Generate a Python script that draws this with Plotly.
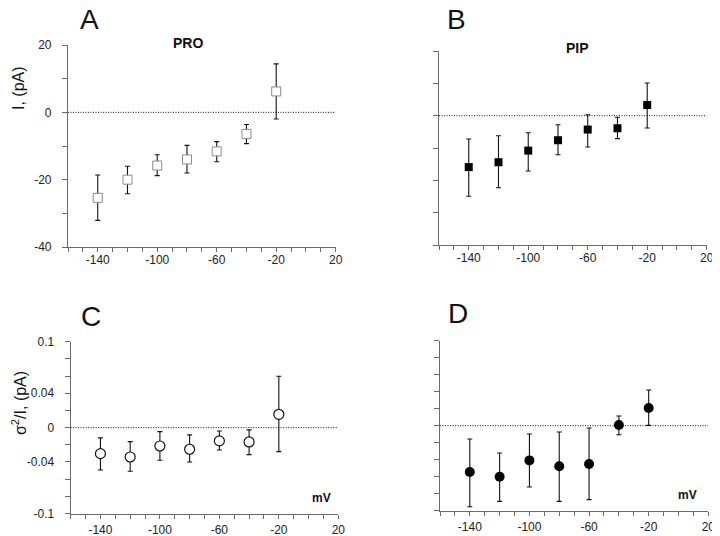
import plotly.graph_objects as go

# ---- data ----
voltage = [-140, -120, -100, -80, -60, -40, -20]

pro_I = [-25.4, -20.0, -15.8, -14.0, -11.6, -6.4, 6.2]
pro_I_up = [6.8, 4.0, 3.2, 4.2, 2.9, 2.8, 8.2]
pro_I_dn = [6.7, 4.2, 3.0, 4.0, 3.1, 2.9, 8.2]

pip_I = [-15.9, -14.4, -10.8, -7.6, -4.3, -3.9, 3.3]
pip_I_up = [8.7, 8.2, 5.5, 4.8, 4.6, 3.4, 6.8]
pip_I_dn = [9.0, 7.9, 6.3, 4.5, 5.4, 3.2, 7.1]

pro_var = [-0.0303, -0.0342, -0.0214, -0.0252, -0.0155, -0.0167, 0.0155]
pro_var_up = [0.0183, 0.0179, 0.0167, 0.0167, 0.0116, 0.0140, 0.0443]
pro_var_dn = [0.0190, 0.0167, 0.0166, 0.0148, 0.0105, 0.0148, 0.0435]

pip_var = [-0.0545, -0.0600, -0.0408, -0.0478, -0.0450, 0.0008, 0.0208]
pip_var_up = [0.0388, 0.0278, 0.0310, 0.0403, 0.0423, 0.0106, 0.0212]
pip_var_dn = [0.0408, 0.0290, 0.0314, 0.0412, 0.0420, 0.0114, 0.0204]

x_ticks = list(range(-160, 21, 10))
x_labels = ["-140", "-100", "-60", "-20", "20"]
I_ticks = list(range(-40, 21, 10))
I_labels = ["20", "0", "-20", "-40"]
var_ticks = [round(-0.1 + 0.02 * i, 2) for i in range(11)]
var_labels = ["0.1", "0.04", "0", "-0.04", "-0.1"]

FONT = "Liberation Sans, Arial, Helvetica, sans-serif"
AXC = "#6a6a6a"
W, H = 720, 536
OFF = 8  # page body margin offset


def px_x(X):
    return (X - OFF) / W


def px_y(Y):
    return 1 - (Y - OFF) / H


fig = go.Figure()

panels = [
    dict(xa="x", ya="y", y=pro_I, up=pro_I_up, dn=pro_I_dn),
    dict(xa="x2", ya="y2", y=pip_I, up=pip_I_up, dn=pip_I_dn),
    dict(xa="x3", ya="y3", y=pro_var, up=pro_var_up, dn=pro_var_dn),
    dict(xa="x4", ya="y4", y=pip_var, up=pip_var_up, dn=pip_var_dn),
]
markers = [
    dict(symbol="square", size=9, color="white", line=dict(color="#8a8a8a", width=1)),
    dict(symbol="square", size=8, color="#000000", line=dict(width=0)),
    dict(symbol="circle", size=10, color="white", line=dict(color="#111111", width=1.2)),
    dict(symbol="circle", size=10, color="#000000", line=dict(width=0)),
]

for p, m in zip(panels, markers):
    fig.add_shape(type="line", xref=p["xa"], yref=p["ya"], x0=-160, x1=20, y0=0, y1=0,
                  line=dict(color="#111111", width=1, dash="1px,1.5px"), layer="below")
    fig.add_trace(go.Scatter(
        x=voltage, y=p["y"], xaxis=p["xa"], yaxis=p["ya"], mode="markers",
        marker=m, showlegend=False, cliponaxis=False,
        error_y=dict(type="data", symmetric=False, array=p["up"], arrayminus=p["dn"],
                     color="#111111", thickness=1.1, width=2.5),
    ))

# pixel boxes (left, right, top, bottom) of each panel's plot area
boxes = {
    "": (68, 335.7, 45, 247),
    "2": (439, 706.7, 51, 245),
    "3": (70.7, 338.3, 341.7, 513.5),
    "4": (440, 708.3, 340.7, 510.7),
}


def fmt(v):
    return "0" if v == 0 else f"{v:g}"


for k, (l, r, t, b) in boxes.items():
    is_var = k in ("3", "4")
    labeled = k in ("", "3")
    if is_var:
        ytext = [fmt(v) if (fmt(v) in var_labels and labeled) else "" for v in var_ticks]
    else:
        ytext = [str(v) if (str(v) in I_labels and labeled) else "" for v in I_ticks]
    fig.update_layout({
        "xaxis" + k: dict(domain=[px_x(l), px_x(r)], range=[-160, 20], anchor="y" + k,
                          showgrid=False, zeroline=False, automargin=False,
                          showline=True, linecolor=AXC, linewidth=1.2, ticks="outside", ticklen=4,
                          tickcolor=AXC, tickwidth=1.2, tickmode="array",
                          tickvals=x_ticks,
                          ticktext=[str(v) if str(v) in x_labels else "" for v in x_ticks],
                          ticklabelstandoff=(1 if is_var else -3),
                          tickfont=dict(family=FONT, size=12, color="#222222")),
        "yaxis" + k: dict(domain=[px_y(b), px_y(t)], range=[-0.1, 0.1] if is_var else [-40, 20],
                          anchor="x" + k, showgrid=False, zeroline=False, automargin=False,
                          showline=True, linecolor=AXC, linewidth=1.2,
                          ticks="outside", ticklen=5, tickcolor=AXC, tickwidth=1.2,
                          tickmode="array",
                          tickvals=var_ticks if is_var else I_ticks,
                          ticktext=ytext,
                          ticklabelstandoff=8,
                          tickfont=dict(family=FONT, size=12, color="#222222")),
    })


def px_ann(text, x, y, size, bold=False, angle=0):
    fig.add_annotation(text=f"<b>{text}</b>" if bold else text, xref="paper", yref="paper",
                       x=px_x(x), y=px_y(y), showarrow=False, textangle=angle,
                       xanchor="center", yanchor="middle",
                       font=dict(family=FONT, size=size, color="#111111"))


px_ann("A", 89, 20, 28)
px_ann("B", 456, 20, 28)
px_ann("C", 91, 316, 28)
px_ann("D", 458, 313, 28)
px_ann("PRO", 188, 43, 14, bold=True)
px_ann("PIP", 577, 48, 14, bold=True)
px_ann("I, (pA)", 18, 88, 16, angle=-90)
px_ann("σ<sup>2</sup>/I, (pA)", 19, 403, 16, angle=-90)
px_ann("mV", 321, 498, 12, bold=True)
px_ann("mV", 687, 495, 12, bold=True)

fig.update_layout(template="none", width=W, height=H,
                  margin=dict(l=0, r=0, t=0, b=0, pad=0),
                  paper_bgcolor="white", plot_bgcolor="white",
                  font=dict(family=FONT))

fig.write_html("out.html")
